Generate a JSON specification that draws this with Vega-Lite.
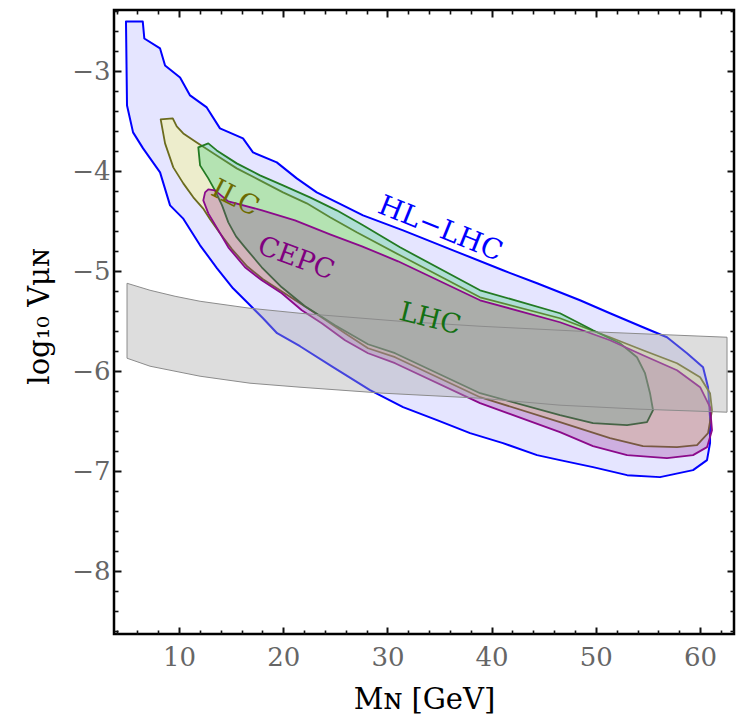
{
  "$schema": "https://vega.github.io/schema/vega-lite/v6.json",
  "width": 620,
  "height": 624,
  "autosize": {"type": "none"},
  "padding": {"left": 114, "top": 10, "right": 4, "bottom": 87},
  "background": "white",
  "config": {
    "font": "DejaVu Serif",
    "view": {"stroke": "#000000", "strokeWidth": 2.5},
    "axis": {
      "grid": false,
      "domain": false,
      "ticks": true,
      "labelFont": "DejaVu Serif",
      "labelFontSize": 26,
      "labelColor": "#666666",
      "tickColor": "#111111",
      "titleFont": "DejaVu Serif",
      "titleFontSize": 29,
      "titleFontWeight": "normal",
      "titleColor": "#000000"
    }
  },
  "datasets": {
    "hl": [
      {"i":1,"m":4.91,"v":-2.50},{"i":2,"m":6.52,"v":-2.50},{"i":3,"m":6.67,"v":-2.67},{"i":4,"m":8.18,"v":-2.77},
      {"i":5,"m":8.66,"v":-2.94},{"i":6,"m":10.10,"v":-3.06},{"i":7,"m":11.06,"v":-3.24},{"i":8,"m":12.66,"v":-3.36},
      {"i":9,"m":13.93,"v":-3.57},{"i":10,"m":16.14,"v":-3.67},{"i":11,"m":17.10,"v":-3.81},{"i":12,"m":19.38,"v":-3.91},
      {"i":13,"m":21.30,"v":-4.07},{"i":14,"m":23.22,"v":-4.21},{"i":15,"m":25.74,"v":-4.34},{"i":16,"m":27.66,"v":-4.44},
      {"i":17,"m":31.50,"v":-4.59},{"i":18,"m":36.30,"v":-4.79},{"i":19,"m":41.09,"v":-4.99},{"i":20,"m":44.36,"v":-5.12},
      {"i":21,"m":48.48,"v":-5.29},{"i":22,"m":51.36,"v":-5.42},{"i":23,"m":54.53,"v":-5.56},{"i":24,"m":56.83,"v":-5.66},
      {"i":25,"m":58.75,"v":-5.82},{"i":26,"m":60.29,"v":-5.96},{"i":27,"m":60.77,"v":-6.16},{"i":28,"m":60.96,"v":-6.46},
      {"i":29,"m":60.96,"v":-6.72},{"i":30,"m":60.67,"v":-6.89},{"i":31,"m":59.33,"v":-6.99},{"i":32,"m":56.16,"v":-7.06},
      {"i":33,"m":53.00,"v":-7.04},{"i":34,"m":49.73,"v":-6.96},{"i":35,"m":46.56,"v":-6.89},{"i":36,"m":44.36,"v":-6.84},
      {"i":37,"m":41.09,"v":-6.72},{"i":38,"m":37.93,"v":-6.62},{"i":39,"m":34.76,"v":-6.49},{"i":40,"m":31.50,"v":-6.36},
      {"i":41,"m":28.33,"v":-6.19},{"i":42,"m":24.78,"v":-5.96},{"i":43,"m":21.61,"v":-5.75},{"i":44,"m":19.41,"v":-5.62},
      {"i":45,"m":18.06,"v":-5.47},{"i":46,"m":16.53,"v":-5.31},{"i":47,"m":15.18,"v":-5.17},{"i":48,"m":13.65,"v":-4.97},
      {"i":49,"m":12.02,"v":-4.74},{"i":50,"m":10.38,"v":-4.47},{"i":51,"m":9.14,"v":-4.34},{"i":52,"m":8.18,"v":-4.01},
      {"i":53,"m":6.55,"v":-3.77},{"i":54,"m":5.59,"v":-3.61},{"i":55,"m":5.01,"v":-3.34}
    ],
    "ilc": [
      {"i":1,"m":8.24,"v":-3.48},{"i":2,"m":9.40,"v":-3.47},{"i":3,"m":9.78,"v":-3.55},{"i":4,"m":10.41,"v":-3.62},
      {"i":5,"m":11.70,"v":-3.71},{"i":6,"m":13.62,"v":-3.84},{"i":7,"m":15.54,"v":-3.97},{"i":8,"m":17.77,"v":-4.09},
      {"i":9,"m":19.98,"v":-4.21},{"i":10,"m":22.26,"v":-4.32},{"i":11,"m":24.49,"v":-4.46},{"i":12,"m":27.05,"v":-4.61},
      {"i":13,"m":31.21,"v":-4.84},{"i":14,"m":38.89,"v":-5.26},{"i":15,"m":46.56,"v":-5.47},{"i":16,"m":51.36,"v":-5.66},
      {"i":17,"m":54.53,"v":-5.79},{"i":18,"m":57.79,"v":-5.92},{"i":19,"m":60.01,"v":-6.06},{"i":20,"m":60.96,"v":-6.22},
      {"i":21,"m":61.15,"v":-6.39},{"i":22,"m":60.77,"v":-6.62},{"i":23,"m":59.71,"v":-6.74},{"i":24,"m":57.79,"v":-6.76},
      {"i":25,"m":54.53,"v":-6.75},{"i":26,"m":51.36,"v":-6.67},{"i":27,"m":46.56,"v":-6.51},{"i":28,"m":38.89,"v":-6.26},
      {"i":29,"m":30.73,"v":-5.86},{"i":30,"m":28.14,"v":-5.77},{"i":31,"m":25.93,"v":-5.62},{"i":32,"m":23.53,"v":-5.45},
      {"i":33,"m":21.61,"v":-5.32},{"i":34,"m":19.98,"v":-5.21},{"i":35,"m":18.06,"v":-5.08},{"i":36,"m":16.53,"v":-4.95},
      {"i":37,"m":15.09,"v":-4.78},{"i":38,"m":13.93,"v":-4.62},{"i":39,"m":12.98,"v":-4.48},{"i":40,"m":12.30,"v":-4.37},
      {"i":41,"m":11.37,"v":-4.26},{"i":42,"m":10.41,"v":-4.12},{"i":43,"m":9.45,"v":-3.96},{"i":44,"m":8.66,"v":-3.72}
    ],
    "lhc": [
      {"i":1,"m":11.85,"v":-3.76},{"i":2,"m":12.81,"v":-3.72},{"i":3,"m":13.62,"v":-3.79},{"i":4,"m":15.54,"v":-3.92},
      {"i":5,"m":17.77,"v":-4.04},{"i":6,"m":19.98,"v":-4.14},{"i":7,"m":22.57,"v":-4.26},{"i":8,"m":25.13,"v":-4.39},
      {"i":9,"m":27.66,"v":-4.54},{"i":10,"m":31.21,"v":-4.76},{"i":11,"m":38.89,"v":-5.19},{"i":12,"m":46.56,"v":-5.42},
      {"i":13,"m":49.73,"v":-5.59},{"i":14,"m":52.32,"v":-5.72},{"i":15,"m":53.95,"v":-5.86},{"i":16,"m":54.72,"v":-6.02},
      {"i":17,"m":55.20,"v":-6.22},{"i":18,"m":55.49,"v":-6.39},{"i":19,"m":54.91,"v":-6.51},{"i":20,"m":53.00,"v":-6.54},
      {"i":21,"m":49.73,"v":-6.52},{"i":22,"m":46.56,"v":-6.44},{"i":23,"m":38.89,"v":-6.22},{"i":24,"m":30.73,"v":-5.82},
      {"i":25,"m":28.14,"v":-5.73},{"i":26,"m":24.97,"v":-5.54},{"i":27,"m":22.09,"v":-5.35},{"i":28,"m":19.86,"v":-5.16},
      {"i":29,"m":17.94,"v":-4.96},{"i":30,"m":16.33,"v":-4.76},{"i":31,"m":15.47,"v":-4.65},{"i":32,"m":14.73,"v":-4.51},
      {"i":33,"m":14.13,"v":-4.34},{"i":34,"m":13.45,"v":-4.19},{"i":35,"m":12.81,"v":-4.07},{"i":36,"m":12.02,"v":-3.94}
    ],
    "cepc": [
      {"i":1,"m":12.50,"v":-4.21},{"i":2,"m":12.81,"v":-4.18},{"i":3,"m":13.45,"v":-4.19},{"i":4,"m":14.73,"v":-4.30},
      {"i":5,"m":17.97,"v":-4.39},{"i":6,"m":21.13,"v":-4.49},{"i":7,"m":24.49,"v":-4.63},{"i":8,"m":27.56,"v":-4.75},
      {"i":9,"m":31.02,"v":-4.90},{"i":10,"m":38.89,"v":-5.29},{"i":11,"m":46.56,"v":-5.51},{"i":12,"m":51.36,"v":-5.69},
      {"i":13,"m":54.53,"v":-5.84},{"i":14,"m":57.79,"v":-5.99},{"i":15,"m":60.01,"v":-6.16},{"i":16,"m":60.96,"v":-6.36},
      {"i":17,"m":61.15,"v":-6.59},{"i":18,"m":60.67,"v":-6.76},{"i":19,"m":59.33,"v":-6.84},{"i":20,"m":56.83,"v":-6.87},
      {"i":21,"m":53.00,"v":-6.84},{"i":22,"m":49.73,"v":-6.75},{"i":23,"m":46.56,"v":-6.61},{"i":24,"m":38.89,"v":-6.32},
      {"i":25,"m":30.73,"v":-5.92},{"i":26,"m":28.14,"v":-5.82},{"i":27,"m":25.93,"v":-5.69},{"i":28,"m":23.70,"v":-5.52},
      {"i":29,"m":21.78,"v":-5.39},{"i":30,"m":19.86,"v":-5.22},{"i":31,"m":17.94,"v":-5.09},{"i":32,"m":16.33,"v":-4.96},
      {"i":33,"m":14.73,"v":-4.76},{"i":34,"m":13.77,"v":-4.59},{"i":35,"m":12.81,"v":-4.42},{"i":36,"m":12.33,"v":-4.29}
    ],
    "band": [
      {"i":1,"m":5.01,"v":-5.12},{"i":2,"m":7.22,"v":-5.19},{"i":3,"m":9.62,"v":-5.25},{"i":4,"m":12.02,"v":-5.30},
      {"i":5,"m":16.81,"v":-5.37},{"i":6,"m":21.61,"v":-5.42},{"i":7,"m":26.41,"v":-5.46},{"i":8,"m":31.21,"v":-5.50},
      {"i":9,"m":38.89,"v":-5.55},{"i":10,"m":48.48,"v":-5.60},{"i":11,"m":62.59,"v":-5.66},{"i":12,"m":62.59,"v":-6.41},
      {"i":13,"m":54.24,"v":-6.38},{"i":14,"m":46.56,"v":-6.34},{"i":15,"m":38.89,"v":-6.27},{"i":16,"m":29.58,"v":-6.22},
      {"i":17,"m":21.61,"v":-6.16},{"i":18,"m":16.81,"v":-6.12},{"i":19,"m":12.02,"v":-6.05},{"i":20,"m":7.22,"v":-5.95},
      {"i":21,"m":5.01,"v":-5.87}
    ],
    "lab_hl": [{"label":"HL−LHC","m":35.05,"v":-4.58}],
    "lab_ilc": [{"label":"ILC","m":15.37,"v":-4.27}],
    "lab_cepc": [{"label":"CEPC","m":21.23,"v":-4.875}],
    "lab_lhc": [{"label":"LHC","m":34.09,"v":-5.48}]
  },
  "resolve": {"axis": {"x": "independent", "y": "independent"}},
  "layer": [
    {
      "data": {"name": "hl"},
      "mark": {"type": "line", "interpolate": "linear-closed", "stroke": "#0000ff", "strokeWidth": 2, "fill": "#0000ff", "fillOpacity": 0.1, "strokeJoin": "round"},
      "encoding": {
        "x": {"field": "m", "type": "quantitative", "scale": {"domain": [3.76, 63.26], "nice": false, "zero": false},
              "axis": {"orient": "bottom", "offset": -7, "values": [10,20,30,40,50,60], "format": "d", "tickSize": 7, "tickWidth": 2, "labelPadding": 31, "labelBaseline": "alphabetic",
                       "title": "Mɴ [GeV]", "titleX": 310, "titleY": 81, "titleAlign": "center", "titleBaseline": "alphabetic"}},
        "y": {"field": "v", "type": "quantitative", "scale": {"domain": [-8.63, -2.385], "nice": false, "zero": false},
              "axis": {"orient": "left", "offset": -7, "values": [-8,-7,-6,-5,-4,-3], "format": "d", "tickSize": 7, "tickWidth": 2, "labelPadding": 4, "labelBaseline": "middle",
                       "title": "log₁₀ Vμɴ", "titleX": -73, "titleY": 306, "titleAngle": -90, "titleAlign": "center", "titleBaseline": "alphabetic"}},
        "order": {"field": "i", "type": "quantitative"}
      }
    },
    {
      "data": {"name": "ilc"},
      "mark": {"type": "line", "interpolate": "linear-closed", "stroke": "#6b6b1e", "strokeWidth": 1.8, "fill": "#ffff55", "fillOpacity": 0.3, "strokeJoin": "round"},
      "encoding": {
        "x": {"field": "m", "type": "quantitative", "scale": {"domain": [3.76, 63.26], "nice": false, "zero": false},
              "axis": {"orient": "bottom", "offset": -4, "values": [4,6,8,12,14,16,18,22,24,26,28,32,34,36,38,42,44,46,48,52,54,56,58,62], "tickSize": 4, "tickWidth": 1.6, "labels": false, "title": null}},
        "y": {"field": "v", "type": "quantitative", "scale": {"domain": [-8.63, -2.385], "nice": false, "zero": false},
              "axis": {"orient": "left", "offset": -4, "values": [-8.6,-8.4,-8.2,-7.8,-7.6,-7.4,-7.2,-6.8,-6.6,-6.4,-6.2,-5.8,-5.6,-5.4,-5.2,-4.8,-4.6,-4.4,-4.2,-3.8,-3.6,-3.4,-3.2,-2.8,-2.6,-2.4], "tickSize": 4, "tickWidth": 1.6, "labels": false, "title": null}},
        "order": {"field": "i", "type": "quantitative"}
      }
    },
    {
      "data": {"name": "lhc"},
      "mark": {"type": "line", "interpolate": "linear-closed", "stroke": "#237a23", "strokeWidth": 1.8, "fill": "#33cc77", "fillOpacity": 0.3, "strokeJoin": "round"},
      "encoding": {
        "x": {"field": "m", "type": "quantitative", "scale": {"domain": [3.76, 63.26], "nice": false, "zero": false},
              "axis": {"orient": "top", "offset": -7, "values": [10,20,30,40,50,60], "tickSize": 7, "tickWidth": 2, "labels": false, "title": null}},
        "y": {"field": "v", "type": "quantitative", "scale": {"domain": [-8.63, -2.385], "nice": false, "zero": false},
              "axis": {"orient": "right", "offset": -7, "values": [-8,-7,-6,-5,-4,-3], "tickSize": 7, "tickWidth": 2, "labels": false, "title": null}},
        "order": {"field": "i", "type": "quantitative"}
      }
    },
    {
      "data": {"name": "cepc"},
      "mark": {"type": "line", "interpolate": "linear-closed", "stroke": "#8b0a8b", "strokeWidth": 1.8, "fill": "#993399", "fillOpacity": 0.3, "strokeJoin": "round"},
      "encoding": {
        "x": {"field": "m", "type": "quantitative", "scale": {"domain": [3.76, 63.26], "nice": false, "zero": false},
              "axis": {"orient": "top", "offset": -4, "values": [4,6,8,12,14,16,18,22,24,26,28,32,34,36,38,42,44,46,48,52,54,56,58,62], "tickSize": 4, "tickWidth": 1.6, "labels": false, "title": null}},
        "y": {"field": "v", "type": "quantitative", "scale": {"domain": [-8.63, -2.385], "nice": false, "zero": false},
              "axis": {"orient": "right", "offset": -4, "values": [-8.6,-8.4,-8.2,-7.8,-7.6,-7.4,-7.2,-6.8,-6.6,-6.4,-6.2,-5.8,-5.6,-5.4,-5.2,-4.8,-4.6,-4.4,-4.2,-3.8,-3.6,-3.4,-3.2,-2.8,-2.6,-2.4], "tickSize": 4, "tickWidth": 1.6, "labels": false, "title": null}},
        "order": {"field": "i", "type": "quantitative"}
      }
    },
    {
      "data": {"name": "band"},
      "mark": {"type": "line", "interpolate": "linear-closed", "stroke": "#8c8c8c", "strokeWidth": 1, "fill": "#aaaaaa", "fillOpacity": 0.4},
      "encoding": {
        "x": {"field": "m", "type": "quantitative", "scale": {"domain": [3.76, 63.26], "nice": false, "zero": false}, "axis": null},
        "y": {"field": "v", "type": "quantitative", "scale": {"domain": [-8.63, -2.385], "nice": false, "zero": false}, "axis": null},
        "order": {"field": "i", "type": "quantitative"}
      }
    },
    {
      "data": {"name": "lab_hl"},
      "mark": {"type": "text", "font": "DejaVu Serif", "fontSize": 28, "color": "#0000ff", "angle": 22, "align": "center", "baseline": "middle"},
      "encoding": {
        "x": {"field": "m", "type": "quantitative", "axis": null},
        "y": {"field": "v", "type": "quantitative", "axis": null},
        "text": {"field": "label"}
      }
    },
    {
      "data": {"name": "lab_ilc"},
      "mark": {"type": "text", "font": "DejaVu Serif", "fontSize": 27, "color": "#6b6b00", "angle": 27, "align": "center", "baseline": "middle"},
      "encoding": {
        "x": {"field": "m", "type": "quantitative", "axis": null},
        "y": {"field": "v", "type": "quantitative", "axis": null},
        "text": {"field": "label"}
      }
    },
    {
      "data": {"name": "lab_cepc"},
      "mark": {"type": "text", "font": "DejaVu Serif", "fontSize": 27, "color": "#800080", "angle": 20, "align": "center", "baseline": "middle"},
      "encoding": {
        "x": {"field": "m", "type": "quantitative", "axis": null},
        "y": {"field": "v", "type": "quantitative", "axis": null},
        "text": {"field": "label"}
      }
    },
    {
      "data": {"name": "lab_lhc"},
      "mark": {"type": "text", "font": "DejaVu Serif", "fontSize": 27, "color": "#137013", "angle": 14, "align": "center", "baseline": "middle"},
      "encoding": {
        "x": {"field": "m", "type": "quantitative", "axis": null},
        "y": {"field": "v", "type": "quantitative", "axis": null},
        "text": {"field": "label"}
      }
    }
  ]
}
